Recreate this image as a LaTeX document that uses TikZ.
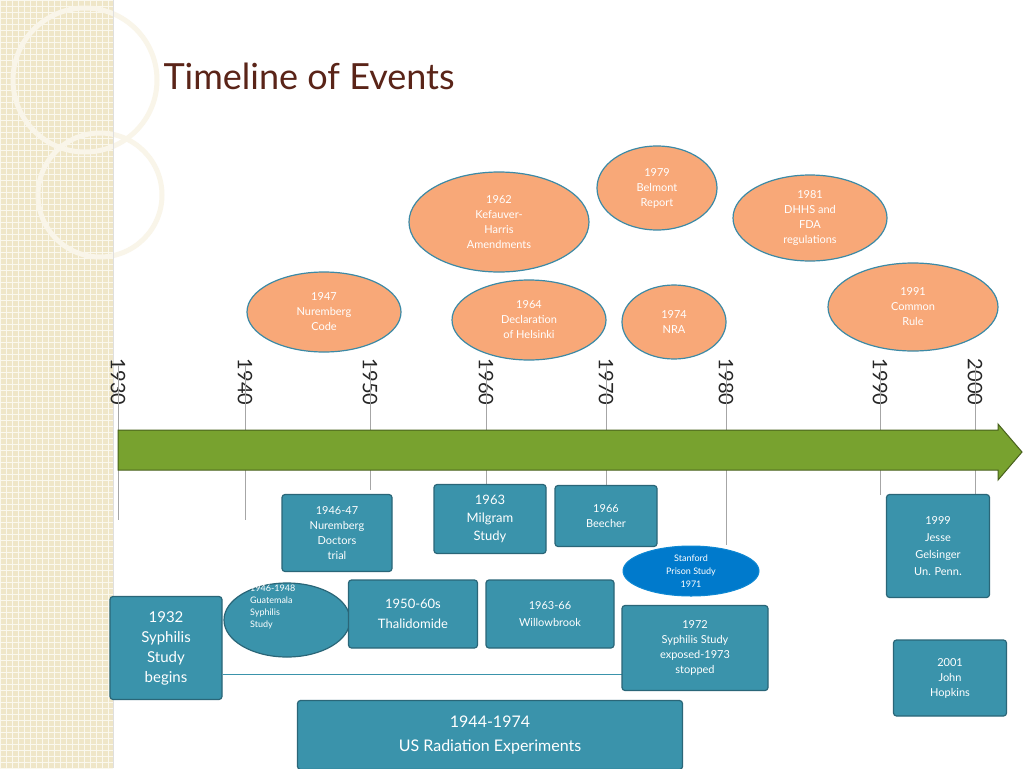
\documentclass[tikz,border=0pt]{standalone}
\usepackage{fontspec}
\setmainfont{Lato}
\usetikzlibrary{shapes.geometric}
\definecolor{peach}{HTML}{F8A878}
\definecolor{eb}{HTML}{3C8AA6}
\definecolor{teal}{HTML}{3A93AB}
\definecolor{tealb}{HTML}{2A6678}
\definecolor{grn}{HTML}{78A22F}
\definecolor{ttl}{HTML}{5A2418}
\definecolor{beige}{HTML}{EFE6C8}
\tikzset{
 ev/.style={ellipse,fill=peach,draw=eb,line width=1.2pt,text=white,align=center,font=\fontsize{11}{15}\selectfont,inner sep=0pt},
 bx/.style={rectangle,rounded corners=3pt,fill=teal,draw=tealb,line width=1.2pt,text=white,align=center,inner sep=1pt},
 yr/.style={rotate=-90,font=\fontsize{20}{20}\selectfont,text=black!85},
 tk/.style={draw=gray!70,line width=0.8pt}
}
\begin{document}
\begin{tikzpicture}[x=1pt,y=-1pt]
\useasboundingbox (0,0) rectangle (1024,768);
\fill[white] (0,0) rectangle (1024,768);
\fill[beige] (0,0) rectangle (113,768);
\foreach \i in {0,6,...,768} {\draw[white!70!beige,line width=0.4pt] (0,\i) -- (113,\i);}
\foreach \i in {0,6,...,113} {\draw[white!70!beige,line width=0.4pt] (\i,0) -- (\i,768);}
\draw[white!60!beige,line width=5pt] (85,80) circle (72);
\draw[white!60!beige,line width=5pt] (100,195) circle (62);
\draw[gray!25,line width=1pt] (113,0) -- (113,768);
\node[anchor=west,text=ttl,font=\fontsize{36}{36}\selectfont] (title) at (160,76) {Timeline of Events};
% ellipses
\node[ev,minimum width=120,minimum height=84] (belmont) at (657,188) {1979\\Belmont\\Report};
\node[ev,minimum width=180,minimum height=100] (kef) at (499,222) {1962\\Kefauver-\\Harris\\Amendments};
\node[ev,minimum width=154,minimum height=86] (dhhs) at (810,218) {1981\\DHHS and\\FDA\\regulations};
\node[ev,minimum width=154,minimum height=80] (nur) at (324,312) {1947\\Nuremberg\\Code};
\node[ev,minimum width=154,minimum height=80] (hel) at (529,320) {1964\\Declaration\\of  Helsinki};
\node[ev,minimum width=104,minimum height=74] (nra) at (674,322) {1974\\NRA};
\node[ev,minimum width=170,minimum height=88] (cr) at (913,307) {1991\\Common\\Rule};
% years
\foreach \x/\y/\e/\n in {118/1930/520/a,245/1940/520/b,370/1950/490/c,486/1960/485/d,606/1970/487/e,726/1980/545/f,880/1990/495/g,975/2000/495/h}{
 \node[yr] (y\n) at (\x,382) {\y};
 \coordinate (t\n) at (\x,\e);
 \draw[tk] (y\n.west) ++(0,10) -- (t\n);
}
% arrow
\draw[fill=grn,draw=grn!60!black,line width=1pt] (118,430) -- (998,430) -- (998,424) -- (1022,452) -- (998,480) -- (998,470) -- (118,470) -- cycle;
% boxes
\node[bx,minimum width=110,minimum height=77,font=\fontsize{11}{15}\selectfont] (nd) at (337,533) {1946-47\\Nuremberg\\Doctors\\trial};
\node[bx,minimum width=112,minimum height=69,font=\fontsize{13}{18}\selectfont] (mil) at (490,519) {1963\\Milgram\\Study};
\node[bx,minimum width=102,minimum height=61,font=\fontsize{11}{15}\selectfont] (bee) at (606,516) {1966\\Beecher};
\node[ellipse,fill=blue!40!cyan!80!black,draw=cyan!70!blue,line width=1pt,text=white,align=center,minimum width=136,minimum height=50,inner sep=0pt,font=\fontsize{9}{13}\selectfont] (stan) at (691,571) {Stanford\\Prison Study\\1971};
\node[bx,minimum width=103,minimum height=103,font=\fontsize{11}{17}\selectfont] (jg) at (938,546) {1999\\Jesse\\Gelsinger\\Un. Penn{\large .}};
\node[bx,minimum width=112,minimum height=103,font=\fontsize{15}{20}\selectfont] (syph) at (166,648) {1932\\Syphilis\\Study\\begins};
\draw[teal,line width=0.8pt] (syph.east |- 0,674) -- (622,674);
\node[ellipse,fill=teal,draw=tealb,line width=1.2pt,text=white,minimum width=126,minimum height=74,inner sep=0pt] (gua) at (287,620) {};
\node[anchor=north west,text=white,align=left,font=\fontsize{9}{12}\selectfont,inner sep=0pt] (guat) at (250,585) {1946-1948\\Guatemala\\Syphilis\\Study};
\node[bx,minimum width=129,minimum height=68,font=\fontsize{13}{20}\selectfont] (thal) at (413,614) {1950-60s\\Thalidomide};
\node[bx,minimum width=128,minimum height=68,font=\fontsize{11}{17}\selectfont] (wb) at (550,614) {1963-66\\Willowbrook};
\node[bx,minimum width=146,minimum height=85,font=\fontsize{11}{15}\selectfont] (exp) at (695,648) {1972\\Syphilis Study\\exposed-1973\\stopped};
\node[bx,minimum width=113,minimum height=76,font=\fontsize{11}{15}\selectfont] (jh) at (950,678) {2001\\John\\Hopkins};
\node[bx,minimum width=385,minimum height=69,font=\fontsize{16}{24}\selectfont] (rad) at (490,735) {1944-1974\\US Radiation Experiments};
\end{tikzpicture}
\end{document}
